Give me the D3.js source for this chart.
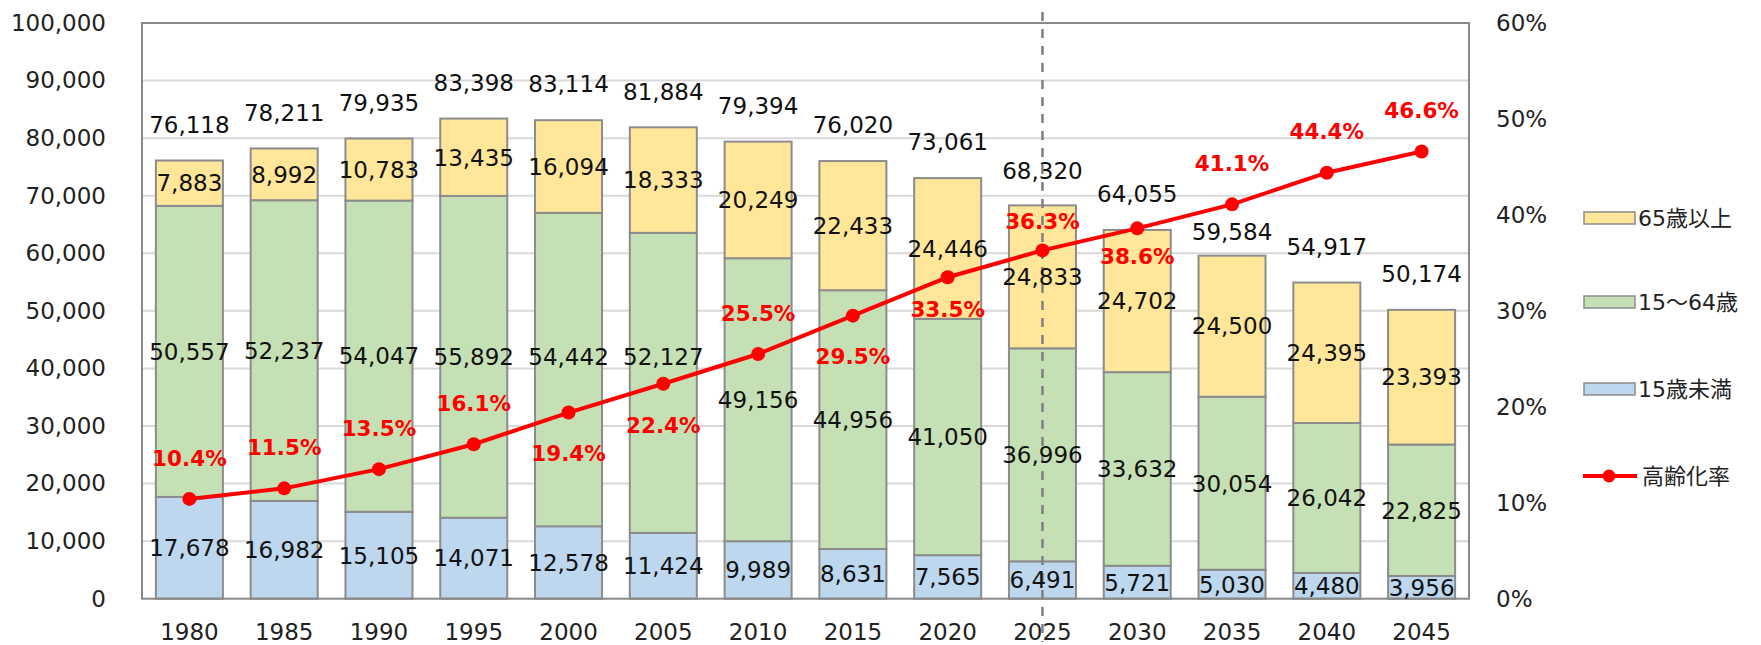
<!DOCTYPE html>
<html>
<head>
<meta charset="utf-8">
<script src="https://cdn.jsdelivr.net/npm/d3@7/dist/d3.min.js"></script>
<style>
  html, body { margin: 0; padding: 0; background: #fff; }
  svg { display: block; font-family: "DejaVu Sans", "Noto Sans CJK JP", sans-serif; }
</style>
</head>
<body>
<svg id="chart" width="1761" height="645"></svg>
<script>
// ---- data ----
const years = ["1980","1985","1990","1995","2000","2005","2010","2015","2020","2025","2030","2035","2040","2045"];
const under15 = [17678,16982,15105,14071,12578,11424,9989,8631,7565,6491,5721,5030,4480,3956];
const age15to64 = [50557,52237,54047,55892,54442,52127,49156,44956,41050,36996,33632,30054,26042,22825];
const age65plus = [7883,8992,10783,13435,16094,18333,20249,22433,24446,24833,24702,24500,24395,23393];
const totals = [76118,78211,79935,83398,83114,81884,79394,76020,73061,68320,64055,59584,54917,50174];
const agingRate = [10.4,11.5,13.5,16.1,19.4,22.4,25.5,29.5,33.5,36.3,38.6,41.1,44.4,46.6];
const leftTicks = [0,10000,20000,30000,40000,50000,60000,70000,80000,90000,100000];
const rightTicks = [0,10,20,30,40,50,60];
const seriesNames = ["65歳以上","15～64歳","15歳未満","高齢化率"];
const projectionStart = "2025";

// ---- layout (not data): manual label nudges in pixels ----
const rateLabelDy = [-41,-41,-41,-41,41,41,-41,41,32,-29,28,-41,-41,-41];
const totalLabelDy = [-36,-36,-36,-36,-36,-36,-36,-36,-36,-35,-36,-24,-36,-36];
const workLabelDy = [0,0,0,0,-13,-26,0,0,0,0,0,0,0,0];

const svg = d3.select("#chart");
const L = 142, R = 1469, T = 23, B = 598.7;

const x = d3.scaleBand().domain(years).range([L, R]).paddingInner(0.293).paddingOuter(0.1465);
const y = d3.scaleLinear().domain([0, 100000]).range([B, T]);
const y2 = d3.scaleLinear().domain([0, 60]).range([B, T]);

const colors = { old: "#FFE699", work: "#C5E0B4", young: "#BDD7EE" };
const stroke = "#8c8c8c";
const fmt = d3.format(",");

// gridlines
svg.append("g").selectAll("line").data(leftTicks.slice(1, -1)).join("line")
  .attr("x1", L).attr("x2", R).attr("y1", d => y(d)).attr("y2", d => y(d))
  .attr("stroke", "#d9d9d9").attr("stroke-width", 2);

// left axis
const gl = svg.append("g").attr("transform", `translate(${L},0)`)
  .call(d3.axisLeft(y).tickValues(leftTicks).tickFormat(fmt).tickSize(0).tickPadding(36));
gl.select(".domain").remove();
gl.selectAll("text").attr("font-size", 23).attr("fill", "#222").attr("font-family", "DejaVu Sans");

// right axis
const gr = svg.append("g").attr("transform", `translate(${R},0)`)
  .call(d3.axisRight(y2).tickValues(rightTicks).tickFormat(d => d + "%").tickSize(0).tickPadding(27));
gr.select(".domain").remove();
gr.selectAll("text").attr("font-size", 23).attr("fill", "#222").attr("font-family", "DejaVu Sans");

// bottom axis labels
const gb = svg.append("g").attr("transform", `translate(0,${B})`)
  .call(d3.axisBottom(x).tickSize(0).tickPadding(25));
gb.select(".domain").remove();
gb.selectAll("text").attr("font-size", 23).attr("fill", "#222").attr("font-family", "DejaVu Sans");

// stacked bars
const rows = years.map((yr, i) => ({ year: yr, young: under15[i], work: age15to64[i], old: age65plus[i] }));
const stack = d3.stack().keys(["young", "work", "old"])(rows);
const barG = svg.append("g");
stack.forEach(layer => {
  barG.append("g").selectAll("rect").data(layer).join("rect")
    .attr("x", d => x(d.data.year))
    .attr("width", x.bandwidth())
    .attr("y", d => y(d[1]))
    .attr("height", d => y(d[0]) - y(d[1]))
    .attr("fill", colors[layer.key])
    .attr("stroke", stroke).attr("stroke-width", 2);
});

// plot border
svg.append("rect").attr("x", L).attr("y", T).attr("width", R - L).attr("height", B - T)
  .attr("fill", "none").attr("stroke", "#898989").attr("stroke-width", 2);

// dashed projection line
const xp = x(projectionStart) + x.bandwidth() / 2;
svg.append("line").attr("x1", xp).attr("x2", xp).attr("y1", 12).attr("y2", 642)
  .attr("stroke", "#7f7f7f").attr("stroke-width", 2.5).attr("stroke-dasharray", "9,8");

// line series
const cx = d => x(d.year) + x.bandwidth() / 2;
const pts = years.map((yr, i) => ({ year: yr, v: agingRate[i], i }));
svg.append("path").datum(pts)
  .attr("d", d3.line().x(cx).y(d => y2(d.v)))
  .attr("fill", "none").attr("stroke", "#ff0000").attr("stroke-width", 4);
svg.append("g").selectAll("circle").data(pts).join("circle")
  .attr("cx", cx).attr("cy", d => y2(d.v)).attr("r", 7).attr("fill", "#ff0000");

// segment labels
const labG = svg.append("g").attr("font-size", 23).attr("fill", "#111").attr("text-anchor", "middle");
stack.forEach(layer => {
  labG.append("g").selectAll("text").data(layer).join("text")
    .attr("x", d => x(d.data.year) + x.bandwidth() / 2)
    .attr("y", (d, i) => (y(d[0]) + y(d[1])) / 2 + (layer.key === "work" ? workLabelDy[i] : 0))
    .attr("dy", "0.36em")
    .text(d => fmt(d[1] - d[0]));
});
// totals
labG.append("g").selectAll("text").data(totals).join("text")
  .attr("x", (d, i) => x(years[i]) + x.bandwidth() / 2)
  .attr("y", (d, i) => y(d) + totalLabelDy[i])
  .attr("dy", "0.36em")
  .text(d => fmt(d));

// rate labels
svg.append("g").selectAll("text").data(pts).join("text")
  .attr("x", cx).attr("y", d => y2(d.v) + rateLabelDy[d.i]).attr("dy", "0.36em")
  .attr("text-anchor", "middle").attr("font-size", 21.5).attr("font-weight", "bold")
  .attr("fill", "#ff0000").text(d => d.v.toFixed(1) + "%");

// legend
const lg = svg.append("g");
const legendBoxes = [
  { name: seriesNames[0], color: colors.old, cy: 218 },
  { name: seriesNames[1], color: colors.work, cy: 302 },
  { name: seriesNames[2], color: colors.young, cy: 389 }
];
legendBoxes.forEach(d => {
  lg.append("rect").attr("x", 1584).attr("y", d.cy - 6).attr("width", 51).attr("height", 12)
    .attr("fill", d.color).attr("stroke", stroke).attr("stroke-width", 1.5);
  lg.append("text").attr("x", 1638).attr("y", d.cy).attr("dy", "0.36em")
    .attr("font-size", 22).attr("fill", "#222").text(d.name);
});
lg.append("line").attr("x1", 1583).attr("x2", 1637).attr("y1", 476).attr("y2", 476)
  .attr("stroke", "#ff0000").attr("stroke-width", 4);
lg.append("circle").attr("cx", 1609).attr("cy", 476).attr("r", 6.5).attr("fill", "#ff0000");
lg.append("text").attr("x", 1642).attr("y", 476).attr("dy", "0.36em")
  .attr("font-size", 22).attr("fill", "#222").text(seriesNames[3]);
</script>
</body>
</html>
